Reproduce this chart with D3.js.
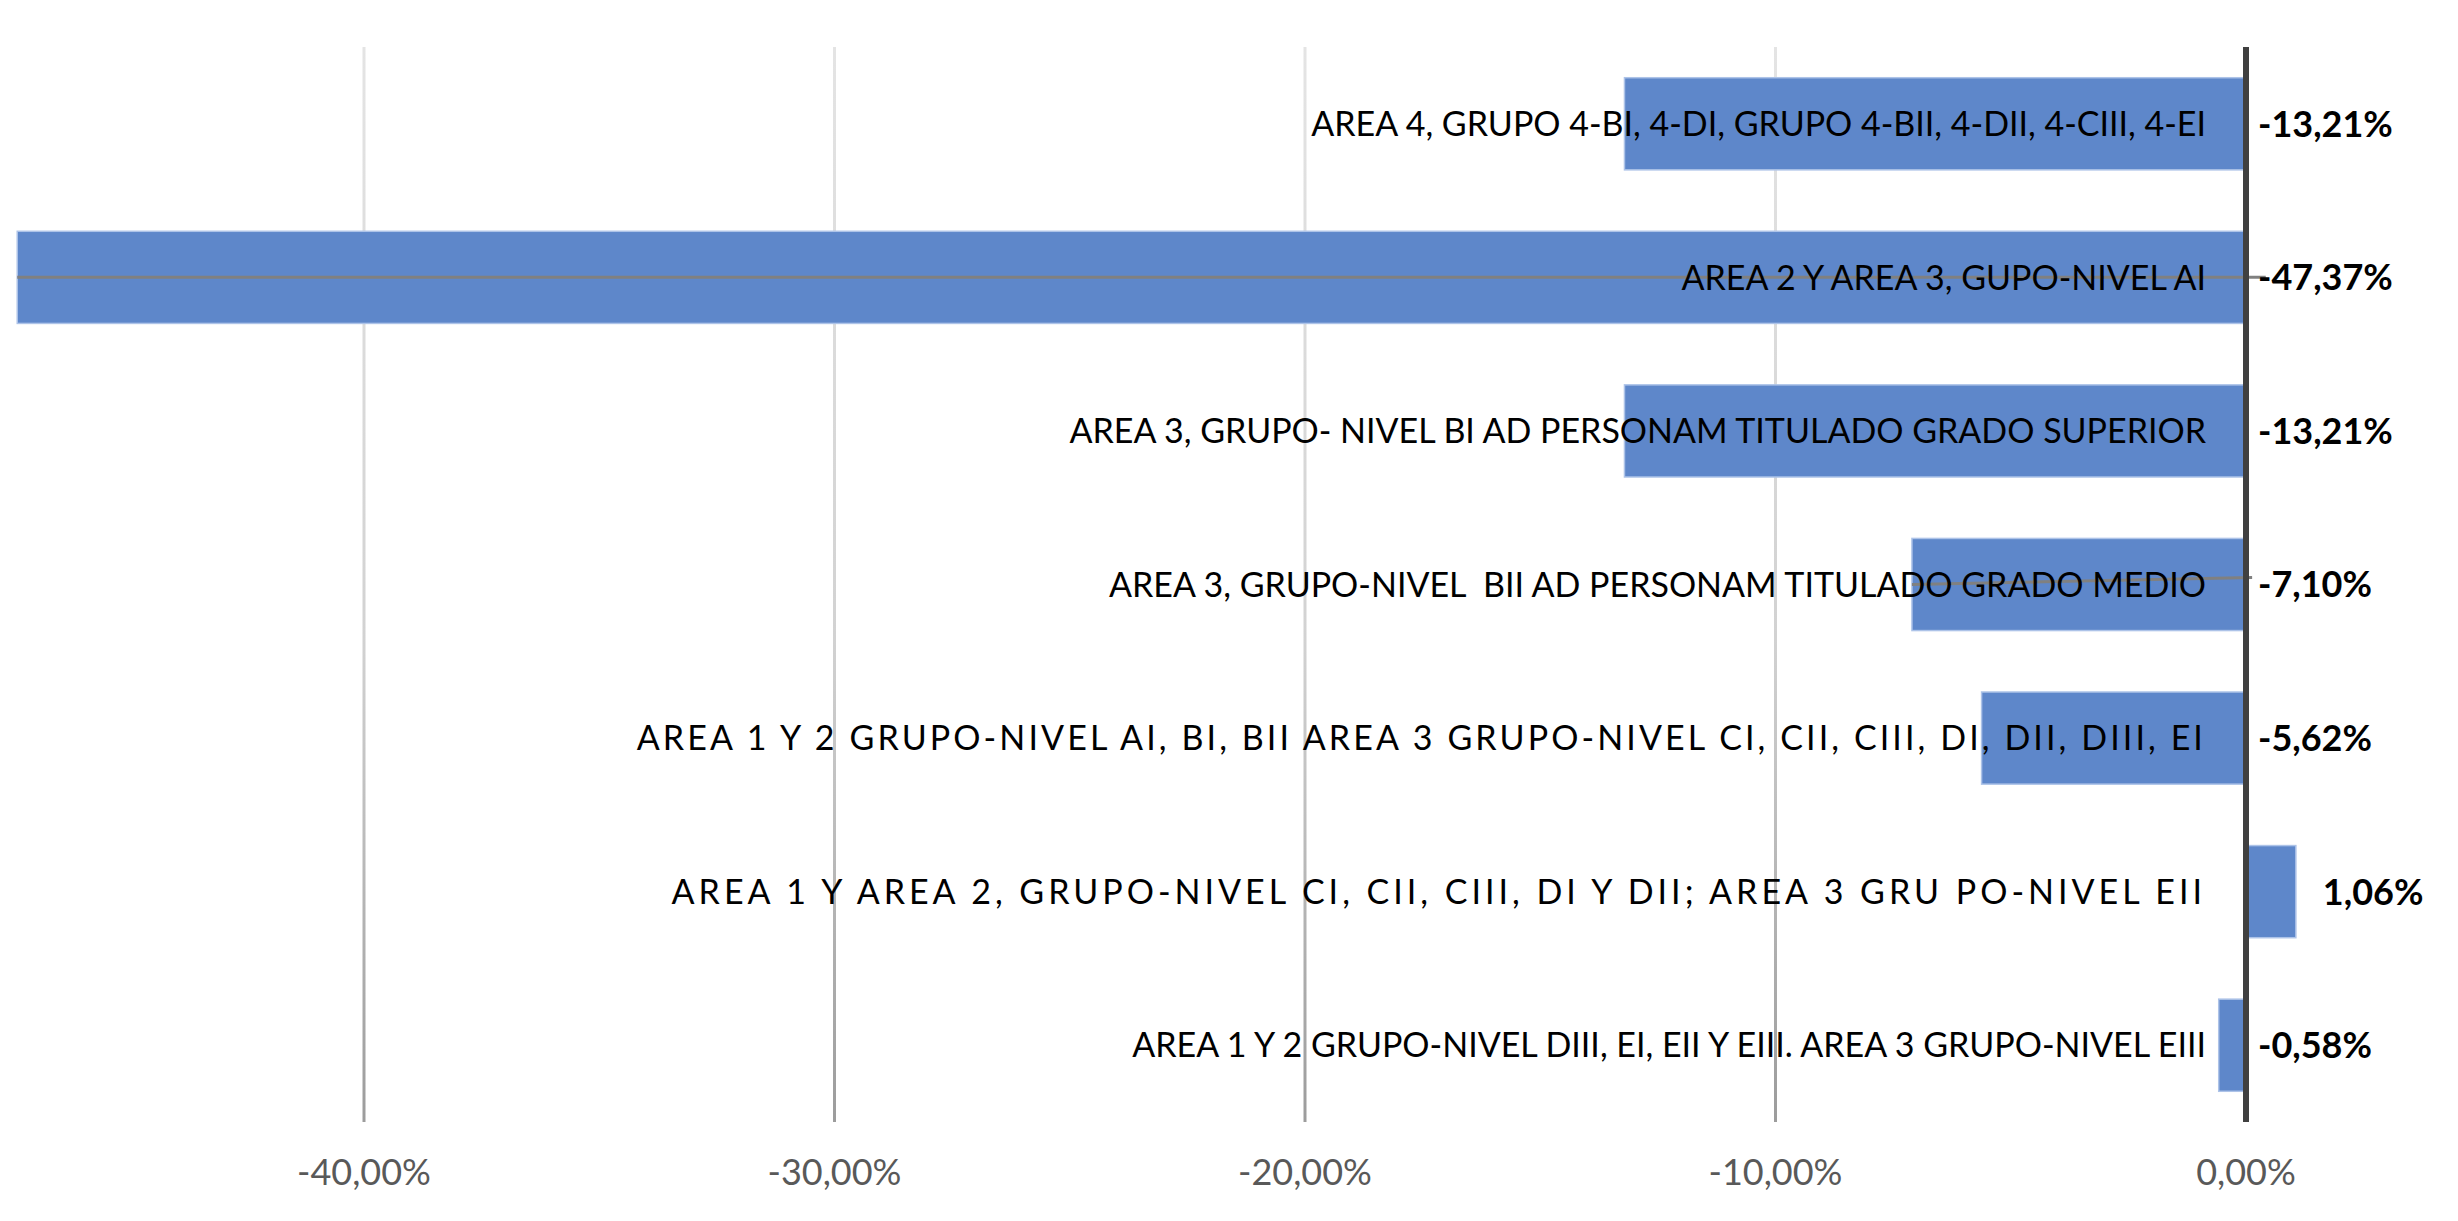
<!DOCTYPE html>
<html>
<head>
<meta charset="utf-8">
<script src="https://cdn.jsdelivr.net/npm/d3@7"></script>
<style>
  body { margin: 0; background: #fff; overflow: hidden; }
  svg text { font-family: Lato, Carlito, Calibri, "Liberation Sans", Arial, sans-serif; }
</style>
</head>
<body>
<div id="chart"></div>
<script>
// datos del gráfico (de arriba a abajo)
var categories = [
  "AREA 4, GRUPO 4-BI, 4-DI, GRUPO 4-BII, 4-DII, 4-CIII, 4-EI",
  "AREA 2 Y AREA 3, GUPO-NIVEL AI",
  "AREA 3, GRUPO- NIVEL BI AD PERSONAM TITULADO GRADO SUPERIOR",
  "AREA 3, GRUPO-NIVEL  BII AD PERSONAM TITULADO GRADO MEDIO",
  "AREA 1 Y 2 GRUPO-NIVEL AI, BI, BII AREA 3 GRUPO-NIVEL CI, CII, CIII, DI, DII, DIII, EI",
  "AREA 1 Y AREA 2, GRUPO-NIVEL CI, CII, CIII, DI Y DII; AREA 3 GRU PO-NIVEL EII",
  "AREA 1 Y 2 GRUPO-NIVEL DIII, EI, EII Y EIII. AREA 3 GRUPO-NIVEL EIII"
];
var values = [-13.21, -47.37, -13.21, -7.10, -5.62, 1.06, -0.58];
var tickValues = [-40, -30, -20, -10, 0];
// líneas guía de las etiquetas (categoría, hasta valor, desplazamiento final)
var leaderCats = [1, 3];
var leaderTo = [0.42, 0.13];
var leaderDy = [0, -0.045];

// espaciado extra de letras en las etiquetas más largas (estilo)
var labelSpacing = {4: 3.1, 5: 4.0};

var width = 2458, height = 1221;
var plotTop = 47, plotBottom = 1122;

var es = d3.formatLocale({decimal: ",", thousands: ".", grouping: [3], currency: ["", "€"], minus: "-"});
var pct = function(v) { return es.format(".2f")(v) + "%"; };

var svg = d3.select("#chart").append("svg")
    .attr("width", width)
    .attr("height", height);

var xScale = d3.scaleLinear()
    .domain([-40, 0])
    .range([364, 2246]);

var yScale = d3.scaleBand()
    .domain(categories)
    .range([plotTop, plotBottom])
    .paddingInner(0.4)
    .paddingOuter(0.2);

// degradado de las líneas de división
var grad = svg.append("defs").append("linearGradient")
    .attr("id", "gridGrad")
    .attr("gradientUnits", "userSpaceOnUse")
    .attr("x1", 0).attr("y1", plotTop).attr("x2", 0).attr("y2", plotBottom);
grad.append("stop").attr("offset", "0").attr("stop-color", "#e4e4e4");
grad.append("stop").attr("offset", "0.55").attr("stop-color", "#d2d2d2");
grad.append("stop").attr("offset", "1").attr("stop-color", "#9c9c9c");

svg.append("g")
    .selectAll("line")
    .data(tickValues.filter(function(d){ return d !== 0; }))
    .enter()
    .append("line")
    .attr("x1", function(d){ return xScale(d); })
    .attr("x2", function(d){ return xScale(d); })
    .attr("y1", plotTop)
    .attr("y2", plotBottom)
    .attr("stroke", "url(#gridGrad)")
    .attr("stroke-width", 3);

// barras
svg.append("g")
    .selectAll("rect")
    .data(values)
    .enter()
    .append("rect")
    .attr("x", function(d){ return xScale(Math.min(0, d)); })
    .attr("y", function(d, i){ return yScale(categories[i]); })
    .attr("width", function(d){ return Math.abs(xScale(d) - xScale(0)); })
    .attr("height", yScale.bandwidth())
    .attr("fill", "#5e87ca")
    .attr("stroke", "#adc3e8")
    .attr("stroke-width", 1.5);

// líneas guía
svg.append("g")
    .selectAll("line")
    .data(leaderCats)
    .enter()
    .append("line")
    .attr("x1", function(d){ return xScale(values[d]); })
    .attr("x2", function(d, i){ return xScale(leaderTo[i]); })
    .attr("y1", function(d){ return yScale(categories[d]) + yScale.bandwidth() / 2; })
    .attr("y2", function(d, i){ return yScale(categories[d]) + yScale.bandwidth() / 2 + leaderDy[i] * yScale.step(); })
    .attr("stroke", "#808080")
    .attr("stroke-width", 3);

// eje vertical en 0
svg.append("line")
    .attr("x1", xScale(0))
    .attr("x2", xScale(0))
    .attr("y1", plotTop)
    .attr("y2", plotBottom)
    .attr("stroke", "#404040")
    .attr("stroke-width", 6);

// etiquetas de categoría
svg.append("g")
    .selectAll("text")
    .data(categories)
    .enter()
    .append("text")
    .attr("x", xScale(0) - 40)
    .attr("y", function(d){ return yScale(d) + yScale.bandwidth() / 2; })
    .attr("dy", "0.36em")
    .attr("text-anchor", "end")
    .style("white-space", "pre")
    .style("font-size", "34px")
    .style("letter-spacing", function(d, i){ return (labelSpacing[i] || 0) + "px"; })
    .style("fill", "#000")
    .text(function(d){ return d; });

// etiquetas de valor
svg.append("g")
    .selectAll("text")
    .data(values)
    .enter()
    .append("text")
    .attr("x", function(d){ return d < 0 ? xScale(0) + 12 : xScale(d) + 27; })
    .attr("y", function(d, i){ return yScale(categories[i]) + yScale.bandwidth() / 2; })
    .attr("dy", "0.36em")
    .style("font-size", "36px")
    .style("font-weight", "bold")
    .style("fill", "#000")
    .text(function(d){ return pct(d); });

// etiquetas del eje X
svg.append("g")
    .selectAll("text")
    .data(tickValues)
    .enter()
    .append("text")
    .attr("x", function(d){ return xScale(d); })
    .attr("y", 1172)
    .attr("dy", "0.36em")
    .attr("text-anchor", "middle")
    .style("font-size", "36px")
    .style("fill", "#595959")
    .text(function(d){ return pct(d); });
</script>
</body>
</html>
